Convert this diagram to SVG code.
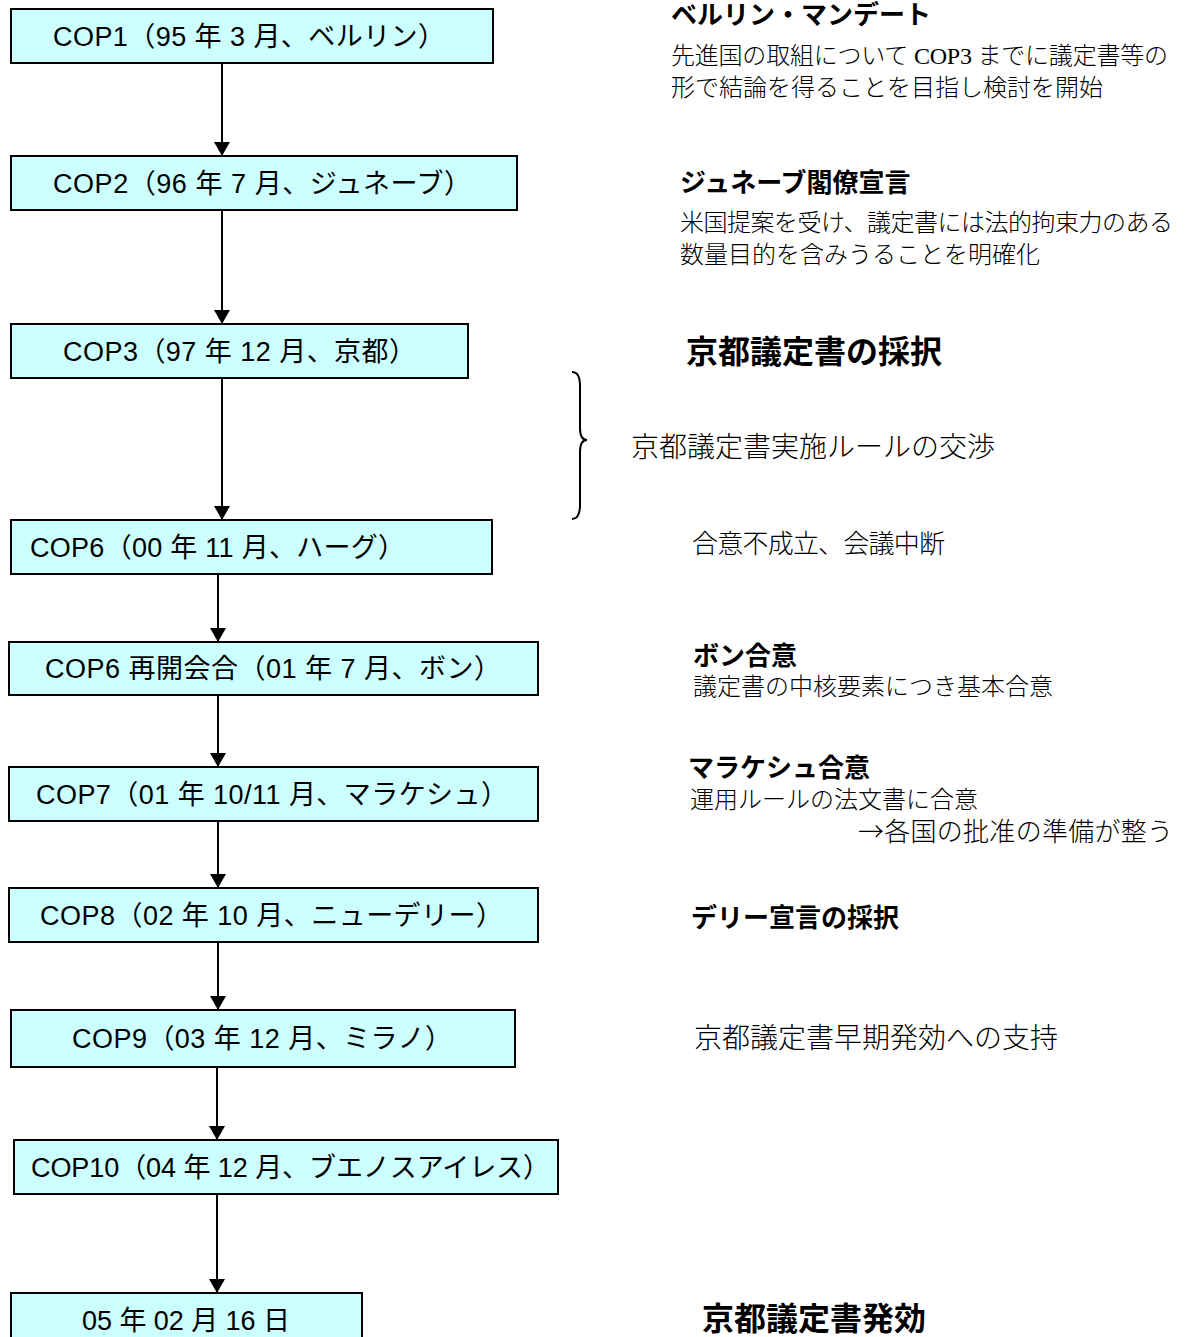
<svg xmlns="http://www.w3.org/2000/svg" width="1185" height="1337" viewBox="0 0 1185 1337">
<style>
.box{fill:#CCFFFF;stroke:#000;stroke-width:2}
.bt{font-family:"Liberation Sans","Noto Sans CJK JP",sans-serif;font-size:27px;fill:#000}
.h{font-family:"Liberation Serif","Noto Sans CJK JP",serif;font-weight:bold;font-size:26px;fill:#000}
.b{font-family:"Liberation Serif","Noto Sans CJK JP",serif;font-weight:300;font-size:24px;fill:#000}
.big{font-family:"Liberation Sans","Noto Sans CJK JP",sans-serif;font-weight:bold;font-size:32px;fill:#000}
.con{stroke:#000;stroke-width:2;fill:none}
</style>
<defs>
<marker id="ah" viewBox="0 0 14 16" refX="14" refY="8" markerWidth="14" markerHeight="16" markerUnits="userSpaceOnUse" orient="auto">
<path d="M0,0 L14,8 L0,16 Z" fill="#000"/>
</marker>
</defs>
<rect width="1185" height="1337" fill="#fff"/>
<g id="connectors">
<line class="con" x1="222" y1="63" x2="222" y2="156" marker-end="url(#ah)"/>
<line class="con" x1="222" y1="210" x2="222" y2="324" marker-end="url(#ah)"/>
<line class="con" x1="222" y1="378" x2="222" y2="520" marker-end="url(#ah)"/>
<line class="con" x1="218" y1="574" x2="218" y2="642" marker-end="url(#ah)"/>
<line class="con" x1="218" y1="695" x2="218" y2="767" marker-end="url(#ah)"/>
<line class="con" x1="218" y1="821" x2="218" y2="888" marker-end="url(#ah)"/>
<line class="con" x1="218" y1="942" x2="218" y2="1010" marker-end="url(#ah)"/>
<line class="con" x1="217" y1="1067" x2="217" y2="1140" marker-end="url(#ah)"/>
<line class="con" x1="217" y1="1194" x2="217" y2="1293" marker-end="url(#ah)"/>
<path class="con" d="M572,372 Q580,372 580,386 L580,428 Q580,440 587,440 Q580,440 580,452 L580,505 Q580,519 572,519" stroke-width="1.5"/>
</g>
<g id="cop1"><rect class="box" x="11" y="9" width="482" height="54"/><text class="bt" x="53" y="46" textLength="392">COP1（95 年 3 月、ベルリン）</text></g>
<g id="cop2"><rect class="box" x="11" y="156" width="506" height="54"/><text class="bt" x="53" y="193" textLength="418">COP2（96 年 7 月、ジュネーブ）</text></g>
<g id="cop3"><rect class="box" x="11" y="324" width="457" height="54"/><text class="bt" x="63" y="361" textLength="353">COP3（97 年 12 月、京都）</text></g>
<g id="cop6"><rect class="box" x="11" y="520" width="481" height="54"/><text class="bt" x="30" y="557" textLength="375">COP6（00 年 11 月、ハーグ）</text></g>
<g id="cop6b"><rect class="box" x="9" y="642" width="529" height="53"/><text class="bt" x="45" y="678" textLength="456">COP6 再開会合（01 年 7 月、ボン）</text></g>
<g id="cop7"><rect class="box" x="9" y="767" width="529" height="54"/><text class="bt" x="36" y="804" textLength="472">COP7（01 年 10/11 月、マラケシュ）</text></g>
<g id="cop8"><rect class="box" x="9" y="888" width="529" height="54"/><text class="bt" x="40" y="925" textLength="463">COP8（02 年 10 月、ニューデリー）</text></g>
<g id="cop9"><rect class="box" x="11" y="1010" width="504" height="57"/><text class="bt" x="72" y="1048" textLength="380">COP9（03 年 12 月、ミラノ）</text></g>
<g id="cop10"><rect class="box" x="14" y="1140" width="544" height="54"/><text class="bt" x="31" y="1177" textLength="519">COP10（04 年 12 月、ブエノスアイレス）</text></g>
<g id="entry"><rect class="box" x="11" y="1293" width="351" height="54"/><text class="bt" x="82" y="1330" textLength="208">05 年 02 月 16 日</text></g>
<g id="notes">
<text class="h" x="671" y="24">ベルリン・マンデート</text>
<text class="b" x="671" y="64" textLength="497">先進国の取組について COP3 までに議定書等の</text>
<text class="b" x="671" y="96">形で結論を得ることを目指し検討を開始</text>
<text class="h" x="680" y="192">ジュネーブ閣僚宣言</text>
<text class="b" x="680" y="231" textLength="493">米国提案を受け、議定書には法的拘束力のある</text>
<text class="b" x="680" y="263">数量目的を含みうることを明確化</text>
<text class="big" x="686" y="363">京都議定書の採択</text>
<text class="b" x="631" y="457" style="font-size:28px">京都議定書実施ルールの交渉</text>
<text class="b" x="692" y="553" style="font-size:26px" textLength="253">合意不成立、会議中断</text>
<text class="h" x="693" y="665">ボン合意</text>
<text class="b" x="693" y="695">議定書の中核要素につき基本合意</text>
<text class="h" x="688" y="777">マラケシュ合意</text>
<text class="b" x="690" y="808">運用ルールの法文書に合意</text>
<text class="b" x="858" y="841" style="font-size:26px" textLength="315"><tspan style="font-family:'Noto Sans CJK JP',sans-serif">→</tspan>各国の批准の準備が整う</text>
<text class="h" x="691" y="927">デリー宣言の採択</text>
<text class="b" x="694" y="1048" style="font-size:28px">京都議定書早期発効への支持</text>
<text class="big" x="702" y="1330">京都議定書発効</text>
</g>
</svg>
